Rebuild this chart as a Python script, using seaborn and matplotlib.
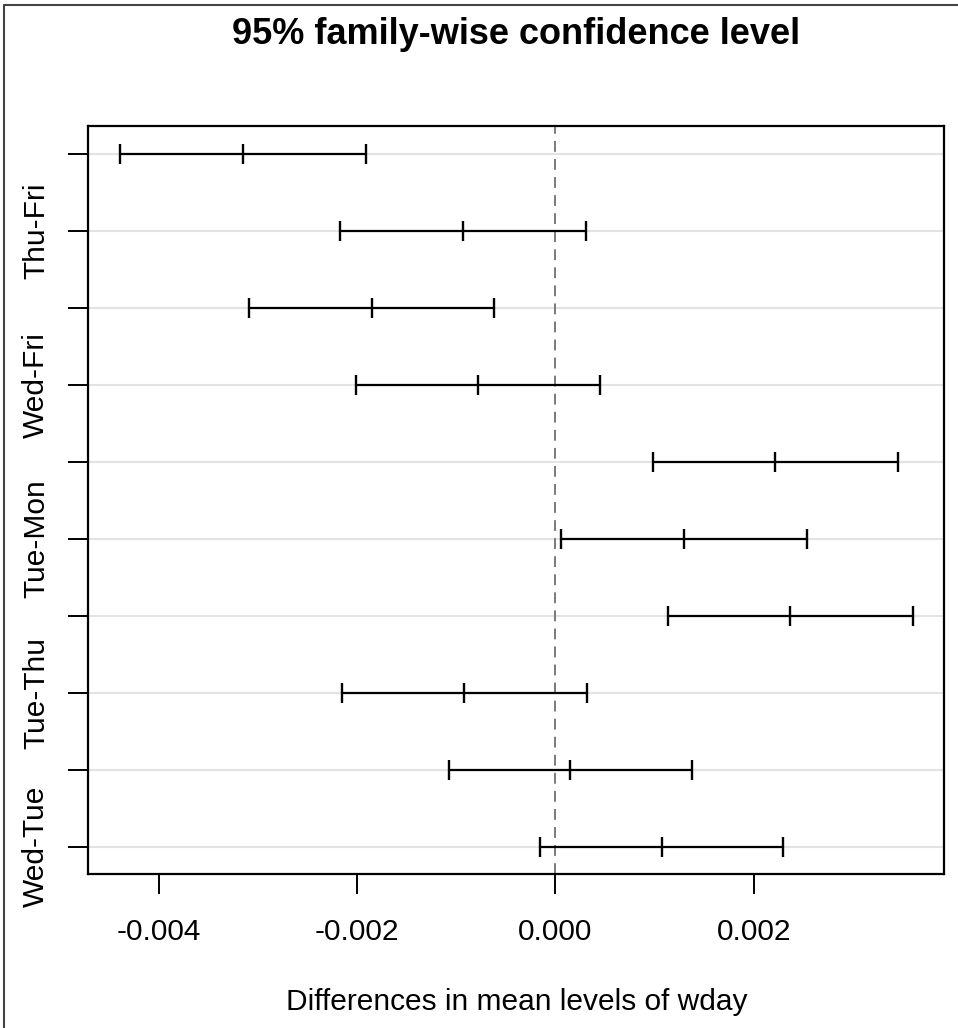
import matplotlib
matplotlib.use("Agg")
import matplotlib.pyplot as plt
from matplotlib.lines import Line2D
import numpy as np
import pandas as pd
import seaborn as sns

# Tukey HSD pairwise comparisons of mean levels by weekday
comparisons = ["Mon-Fri", "Thu-Fri", "Tue-Fri", "Wed-Fri", "Thu-Mon",
               "Tue-Mon", "Wed-Mon", "Tue-Thu", "Wed-Thu", "Wed-Tue"]
diff = [-0.003153, -0.000932, -0.001852, -0.000783, 0.002217,
        0.001297, 0.002369, -0.000922, 0.000147, 0.001072]
lwr = [-0.004394, -0.002172, -0.003090, -0.002013, 0.000981,
       0.000056, 0.001135, -0.002152, -0.001073, -0.000155]
upr = [-0.001913, 0.000306, -0.000619, 0.000447, 0.003458,
       0.002537, 0.003603, 0.000316, 0.001377, 0.002298]
x_ticks = [-0.004, -0.002, 0.000, 0.002]
x_tick_labels = ["-0.004", "-0.002", "0.000", "0.002"]

title = "95% family-wise confidence level"
x_label = "Differences in mean levels of wday"

sns.set_style("ticks")
plt.rcParams["font.family"] = ["Liberation Sans", "DejaVu Sans"]
plt.rcParams["text.color"] = "black"
plt.rcParams["axes.labelcolor"] = "black"

n = len(comparisons)
ypos = np.arange(n, 0, -1)  # first comparison on top

df = pd.DataFrame({"comparison": comparisons, "y": ypos,
                   "diff": diff, "lwr": lwr, "upr": upr})
seg = df.melt(id_vars=["comparison", "y"], value_vars=["lwr", "upr"],
              value_name="x")
pts = df.melt(id_vars=["comparison", "y"], value_vars=["lwr", "diff", "upr"],
              value_name="x")

W, H = 958, 1028
fig = plt.figure(figsize=(W / 100, H / 100), dpi=100)
L, R, T, B = 88.3, 944.3, 126.0, 874.3
ax = fig.add_axes([L / W, 1 - B / H, (R - L) / W, (B - T) / H])

# horizontal guide lines at each comparison
for y in ypos:
    ax.axhline(y, color="#e3e3e3", lw=1.5, zorder=0)

# confidence interval segments
sns.lineplot(data=seg, x="x", y="y", units="comparison", estimator=None,
             sort=False, color="black", lw=1.6, ax=ax, legend=False, zorder=2)
# end caps and point estimates
sns.scatterplot(data=pts, x="x", y="y", marker="|", s=190, color="black",
                linewidth=1.7, ax=ax, legend=False, zorder=3)

ax.axvline(0, color="#707070", lw=1.3, ls=(0, (6, 4)), zorder=1)

ax.set_xlim(-0.004714, 0.003923)
ax.set_ylim(0.64, 10.36)

FS = 21.5
ax.set_xticks(x_ticks)
ax.set_xticklabels(x_tick_labels, fontsize=FS)
ax.set_yticks(ypos)
# only every other label fits along the axis, starting from the bottom
ylabels = [c if (n - 1 - i) % 2 == 0 else "" for i, c in enumerate(comparisons)]
ax.set_yticklabels(ylabels, fontsize=FS, rotation=90, va="center")

ax.tick_params(axis="both", length=14.5, width=1.4, color="black",
               labelcolor="black", direction="out")
ax.tick_params(axis="x", pad=17)
ax.tick_params(axis="y", pad=13)

for s in ax.spines.values():
    s.set_visible(True)
    s.set_linewidth(1.6)
    s.set_color("black")

ax.set_xlabel(x_label, fontsize=FS)
ax.set_ylabel("")
ax.xaxis.set_label_coords(0.5, (B - 1002) / (B - T))
ax.xaxis.label.set_va("center")

fig.text((L + R) / 2 / W, 1 - 34 / H, title, ha="center", va="center",
         fontsize=26, fontweight="bold", color="black")

# outer frame on top and left edges
fig.add_artist(Line2D([4 / W, 4 / W], [0, 1 - 5 / H], transform=fig.transFigure,
                      color="#444444", lw=1.5))
fig.add_artist(Line2D([4 / W, 1], [1 - 5 / H, 1 - 5 / H], transform=fig.transFigure,
                      color="#444444", lw=1.5))

fig.savefig("out.png", dpi=100, facecolor="white")
